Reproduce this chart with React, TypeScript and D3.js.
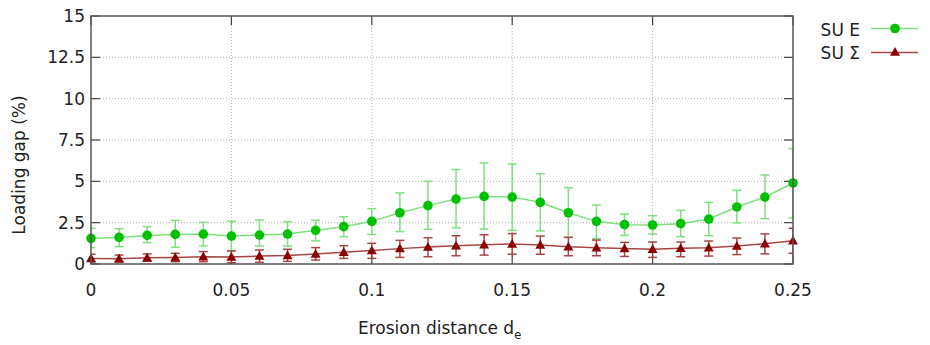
import React from "react";
import * as d3 from "d3";

const xValues = [0, 0.01, 0.02, 0.03, 0.04, 0.05, 0.06, 0.07, 0.08, 0.09, 0.1, 0.11, 0.12, 0.13, 0.14, 0.15, 0.16, 0.17, 0.18, 0.19, 0.2, 0.21, 0.22, 0.23, 0.24, 0.25];

const suEMean = [1.55, 1.61, 1.73, 1.79, 1.81, 1.69, 1.75, 1.81, 2.04, 2.26, 2.58, 3.1, 3.53, 3.93, 4.09, 4.05, 3.73, 3.1, 2.58, 2.38, 2.36, 2.44, 2.72, 3.45, 4.05, 4.9];
const suELow = [0.99, 1.05, 1.29, 1.01, 1.09, 0.81, 1.09, 1.09, 1.4, 1.65, 1.79, 1.96, 2.1, 2.18, 2.12, 2.04, 2.0, 1.61, 1.53, 1.73, 1.81, 1.65, 1.71, 2.48, 2.74, 2.78];
const suEHigh = [2.16, 2.14, 2.26, 2.64, 2.52, 2.58, 2.66, 2.56, 2.65, 2.86, 3.35, 4.3, 5.0, 5.71, 6.11, 6.05, 5.45, 4.62, 3.57, 3.02, 2.92, 3.25, 3.73, 4.46, 5.38, 6.98];

const suSMean = [0.34, 0.32, 0.38, 0.4, 0.44, 0.42, 0.48, 0.52, 0.61, 0.71, 0.81, 0.93, 1.03, 1.11, 1.17, 1.21, 1.15, 1.05, 0.99, 0.93, 0.89, 0.95, 0.99, 1.09, 1.23, 1.41];
const suSLow = [0.12, 0.12, 0.16, 0.14, 0.14, 0.08, 0.1, 0.16, 0.24, 0.34, 0.34, 0.4, 0.44, 0.5, 0.54, 0.59, 0.59, 0.5, 0.5, 0.46, 0.4, 0.44, 0.48, 0.57, 0.61, 0.65];
const suSHigh = [0.59, 0.54, 0.61, 0.65, 0.75, 0.79, 0.85, 0.89, 0.99, 1.11, 1.25, 1.43, 1.59, 1.71, 1.77, 1.84, 1.69, 1.61, 1.45, 1.31, 1.33, 1.33, 1.39, 1.57, 1.82, 2.16];

const xTicks = [0, 0.05, 0.1, 0.15, 0.2, 0.25];
const xTickLabels = ["0", "0.05", "0.1", "0.15", "0.2", "0.25"];
const yTicks = [0, 2.5, 5, 7.5, 10, 12.5, 15];
const yTickLabels = ["0", "2.5", "5", "7.5", "10", "12.5", "15"];

const W = 930;
const H = 345;
const L = 91;
const R = 793;
const T = 16;
const B = 264;

const FONT = "'DejaVu Sans', Verdana, sans-serif";

export default function App() {
  const x = d3.scaleLinear().domain([0, 0.25]).range([L, R]);
  const y = d3.scaleLinear().domain([0, 15]).range([B, T]);

  const line = d3
    .line<number>()
    .x((_, i) => x(xValues[i]))
    .y((d) => y(d));

  const green = "#00c000";
  const greenLight = "#7ee07e";
  const red = "#8b0000";
  const redLight = "#a54545";
  const cap = 4.5;

  const tri = (cx: number, cy: number, s = 5) =>
    `M${cx},${cy - s} L${cx + s * 1.0},${cy + s * 0.75} L${cx - s * 1.0},${cy + s * 0.75} Z`;

  const errBars = (lo: number[], hi: number[], color: string) =>
    xValues.map((xv, i) => {
      const cx = x(xv);
      const y1 = y(lo[i]);
      const y2 = y(hi[i]);
      return (
        <g key={i} stroke={color} strokeWidth={1.5}>
          <line x1={cx} x2={cx} y1={y1} y2={y2} />
          <line x1={cx - cap} x2={cx + cap} y1={y1} y2={y1} />
          <line x1={cx - cap} x2={cx + cap} y1={y2} y2={y2} />
        </g>
      );
    });

  return (
    <svg
      width={W}
      height={H}
      style={{ position: "absolute", left: 0, top: 0, background: "#fff" }}
      fontFamily={FONT}
    >
      <defs>
        <clipPath id="plotClip">
          <rect x={L} y={T} width={R - L} height={B - T} />
        </clipPath>
      </defs>
      <rect x={0} y={0} width={W} height={H} fill="#fff" />

      {/* grid */}
      <g stroke="#b0b0b0" strokeWidth={1} strokeDasharray="1,2">
        {xTicks.slice(1, -1).map((t) => (
          <line key={"gx" + t} x1={x(t)} x2={x(t)} y1={T} y2={B} />
        ))}
        {yTicks.slice(1, -1).map((t) => (
          <line key={"gy" + t} x1={L} x2={R} y1={y(t)} y2={y(t)} />
        ))}
      </g>

      {/* ticks */}
      <g stroke="#444" strokeWidth={1.2}>
        {xTicks.map((t) => (
          <g key={"tx" + t}>
            <line x1={x(t)} x2={x(t)} y1={B} y2={B - 9} />
            <line x1={x(t)} x2={x(t)} y1={T} y2={T + 9} />
          </g>
        ))}
        {yTicks.map((t) => (
          <g key={"ty" + t}>
            <line x1={L} x2={L + 9} y1={y(t)} y2={y(t)} />
            <line x1={R} x2={R - 9} y1={y(t)} y2={y(t)} />
          </g>
        ))}
      </g>

      {/* error bars */}
      <g clipPath="url(#plotClip)">
        {errBars(suELow, suEHigh, greenLight)}
        {errBars(suSLow, suSHigh, redLight)}
      </g>

      {/* lines */}
      <path d={line(suEMean) || ""} fill="none" stroke={greenLight} strokeWidth={1.5} />
      <path d={line(suSMean) || ""} fill="none" stroke={redLight} strokeWidth={1.5} />

      {/* markers */}
      {suEMean.map((v, i) => (
        <circle key={"ce" + i} cx={x(xValues[i])} cy={y(v)} r={4.8} fill={green} />
      ))}
      {suSMean.map((v, i) => (
        <path key={"ts" + i} d={tri(x(xValues[i]), y(v))} fill={red} />
      ))}

      {/* border */}
      <rect x={L} y={T} width={R - L} height={B - T} fill="none" stroke="#555" strokeWidth={1.5} />

      {/* tick labels */}
      <g fontSize={17} fill="#222">
        {xTicks.map((t, i) => (
          <text key={"lx" + t} x={x(t)} y={296} textAnchor="middle">
            {xTickLabels[i]}
          </text>
        ))}
        {yTicks.map((t, i) => (
          <text key={"ly" + t} x={85} y={y(t) + 6} textAnchor="end">
            {yTickLabels[i]}
          </text>
        ))}
      </g>

      {/* axis titles */}
      <text x={358} y={334} fontSize={17} fill="#222" textAnchor="start">
        Erosion distance d
        <tspan fontSize={11.5} dy={5}>e</tspan>
      </text>
      <text
        transform={`translate(25,165) rotate(-90)`}
        fontSize={17}
        fill="#222"
        textAnchor="middle"
      >
        Loading gap (%)
      </text>

      {/* legend */}
      <g fontSize={17} fill="#222">
        <text x={860} y={36} textAnchor="end">SU E</text>
        <line x1={871} x2={918} y1={28.5} y2={28.5} stroke={greenLight} strokeWidth={1.5} />
        <circle cx={895} cy={28.5} r={4.8} fill={green} />
        <text x={860} y={59} textAnchor="end">SU Σ</text>
        <line x1={871} x2={918} y1={52.5} y2={52.5} stroke={redLight} strokeWidth={1.5} />
        <path d={tri(895, 52)} fill={red} />
      </g>
    </svg>
  );
}
